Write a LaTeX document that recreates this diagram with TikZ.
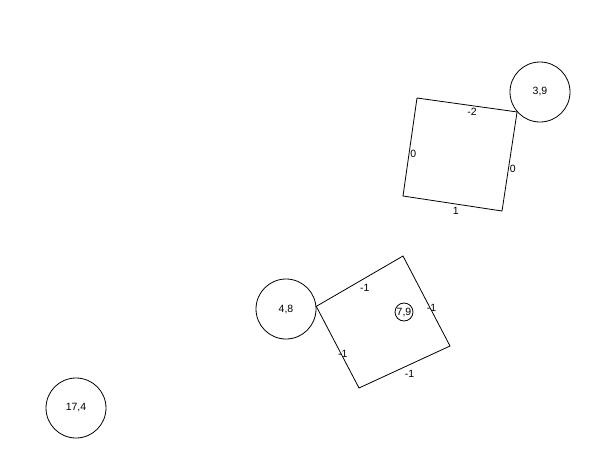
\documentclass[tikz,border=0pt]{standalone}
\usepackage{fontspec}
\setmainfont{Liberation Sans}
\begin{document}
\begin{tikzpicture}[x=1pt,y=-1pt,line width=.8pt,
  cell/.style={draw,circle,minimum size=60pt,inner sep=0pt,font=\fontsize{10.5}{12}\selectfont},
  wt/.style={anchor=north west,inner sep=0pt,yshift=-3pt,font=\fontsize{10.5}{12}\selectfont}]
\useasboundingbox (0,0) rectangle (604,469);
\node[cell] (c39) at (540,92) {3,9};
\node[cell] (c48) at (286,309) {4,8};
\node[cell] (c174) at (76,408) {17,4};
\node[cell,minimum size=18pt] (c79) at (404,312) {7,9};
% upper square
\coordinate (u1) at (417,98);
\coordinate (u3) at (502,211);
\coordinate (u4) at (403,196);
\draw (u1) -- node[wt]{-2} (c39.221) -- node[wt]{0} (u3) -- node[wt]{1} (u4) -- node[wt]{0} (u1);
% lower square
\coordinate (l2) at (403,256);
\coordinate (l3) at (450,346);
\coordinate (l4) at (359,388);
\draw (c48.5) -- node[wt]{-1} (l2) -- node[wt]{-1} (l3) -- node[wt]{-1} (l4) -- node[wt]{-1} (c48.5);
\end{tikzpicture}
\end{document}
